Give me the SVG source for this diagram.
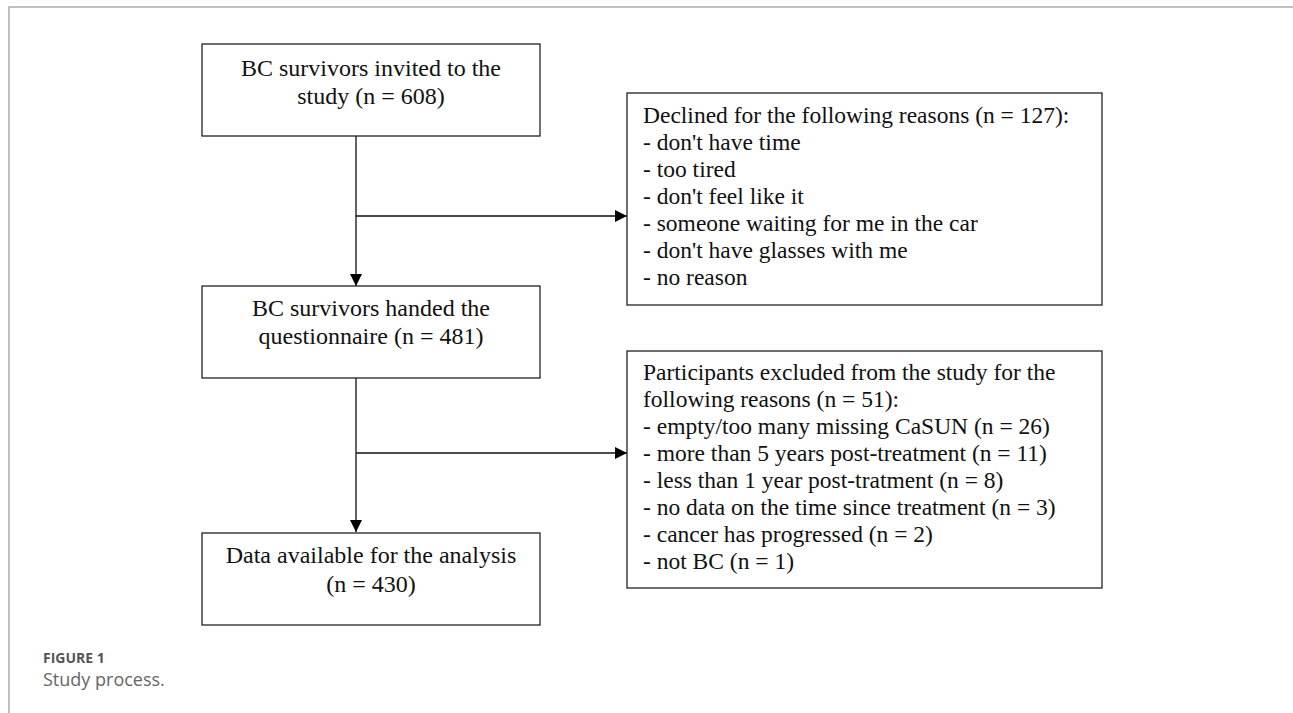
<svg xmlns="http://www.w3.org/2000/svg" width="1293" height="713" viewBox="0 0 1293 713">
<style>
.box{fill:#fff;stroke:#222;stroke-width:1.3}
.t{font-family:"Liberation Serif","Times New Roman",serif;font-size:23.5px;fill:#111}
.c{text-anchor:middle;font-size:24px}
.ln{fill:none;stroke:#111;stroke-width:1.3}
.cap1{font-family:"Open Sans","Liberation Sans",sans-serif;font-size:14px;font-weight:bold;fill:#555}
.cap2{font-family:"Open Sans","Liberation Sans",sans-serif;font-size:18px;fill:#666}
</style>
<defs>
<marker id="ah" viewBox="0 0 12 12" refX="12" refY="6" markerWidth="12" markerHeight="12" markerUnits="userSpaceOnUse" orient="auto">
<path d="M0,0 L12,6 L0,12 Z" fill="#000"/>
</marker>
</defs>
<path d="M9,713 V7 H1293" fill="none" stroke="#aaa" stroke-width="1.5"/>
<g id="connectors">
<path class="ln" d="M356,136 V286" marker-end="url(#ah)"/>
<path class="ln" d="M356,216 H627" marker-end="url(#ah)"/>
<path class="ln" d="M356,378 V532" marker-end="url(#ah)"/>
<path class="ln" d="M356,453 H627" marker-end="url(#ah)"/>
</g>
<g id="invited">
<rect class="box" x="202" y="44" width="338" height="92"/>
<text class="t c" x="371" y="76">BC survivors invited to the</text>
<text class="t c" x="371" y="104">study (n = 608)</text>
</g>
<g id="handed">
<rect class="box" x="202" y="286" width="338" height="92"/>
<text class="t c" x="371" y="316">BC survivors handed the</text>
<text class="t c" x="371" y="344">questionnaire (n = 481)</text>
</g>
<g id="available">
<rect class="box" x="202" y="533" width="338" height="92"/>
<text class="t c" x="371" y="563">Data available for the analysis</text>
<text class="t c" x="371" y="592">(n = 430)</text>
</g>
<g id="declined">
<rect class="box" x="627" y="93" width="475" height="212"/>
<text class="t" x="643" y="123">Declined for the following reasons (n = 127):</text>
<text class="t" x="643" y="150">- don't have time</text>
<text class="t" x="643" y="177">- too tired</text>
<text class="t" x="643" y="204">- don't feel like it</text>
<text class="t" x="643" y="231">- someone waiting for me in the car</text>
<text class="t" x="643" y="258">- don't have glasses with me</text>
<text class="t" x="643" y="285">- no reason</text>
</g>
<g id="excluded">
<rect class="box" x="627" y="351" width="475" height="237"/>
<text class="t" x="643" y="380">Participants excluded from the study for the</text>
<text class="t" x="643" y="407">following reasons (n = 51):</text>
<text class="t" x="643" y="434">- empty/too many missing CaSUN (n = 26)</text>
<text class="t" x="643" y="461">- more than 5 years post-treatment (n = 11)</text>
<text class="t" x="643" y="488">- less than 1 year post-tratment (n = 8)</text>
<text class="t" x="643" y="515">- no data on the time since treatment (n = 3)</text>
<text class="t" x="643" y="542">- cancer has progressed (n = 2)</text>
<text class="t" x="643" y="569">- not BC (n = 1)</text>
</g>
<g id="caption">
<text class="cap1" x="43" y="663">FIGURE 1</text>
<text class="cap2" x="43" y="686">Study process.</text>
</g>
</svg>
